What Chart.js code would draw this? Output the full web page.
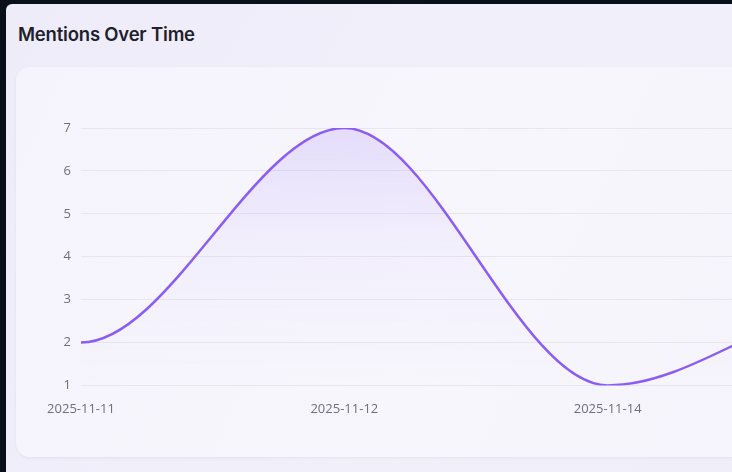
<!DOCTYPE html>
<html>
<head>
<meta charset="utf-8">
<script src="https://cdn.jsdelivr.net/npm/chart.js@4"></script>
<style>
  html, body { margin: 0; padding: 0; }
  body {
    width: 732px; height: 472px; overflow: hidden;
    background: #0a101b;
    font-family: Inter, "Noto Sans", sans-serif;
  }
  .panel {
    position: absolute; left: 6px; top: 4px; width: 1000px; height: 480px;
    background: linear-gradient(120deg, #eeecf9 0%, #f1f0fa 50%, #eeedf8 100%);
    border-radius: 6px 0 0 0;
  }
  .panel h2 {
    position: absolute; left: 12px; top: 19px; margin: 0;
    font-size: 18.5px; font-weight: 600; color: #1f1f2d; letter-spacing: -0.2px;
  }
  .card {
    position: absolute; left: 10px; top: 63px; width: 980px; height: 390px;
    background: linear-gradient(115deg, #f5f4fc 0%, #f7f6fd 45%, #f4f3fb 100%);
    border-radius: 14px;
    box-shadow: 0 1px 3px rgba(120, 110, 170, 0.10);
  }
  #chart { position: absolute; left: 21px; top: 0; }
</style>
</head>
<body>
<div class="panel">
  <h2>Mentions Over Time</h2>
  <div class="card">
    <canvas id="chart" width="880" height="390"></canvas>
  </div>
</div>
<script>
// dates with mentions (last one lies off the visible area)
const dates = ['2025-11-11', '2025-11-12', '2025-11-14', '2025-11-15'];
const mentions = [2, 7, 1, 3];
const yTicks = [1, 2, 3, 4, 5, 6, 7];

const lineColor = '#8b5cf6';

// smooth curve with a flat tangent at every point
const flatCurve = {
    id: 'flatCurve',
    afterDatasetsUpdate(chart) {
        chart.data.datasets.forEach((ds, i) => {
            const meta = chart.getDatasetMeta(i);
            const pts = meta.data;
            pts.forEach((p, k) => {
                const prev = pts[k - 1] || p;
                const next = pts[k + 1] || p;
                p.cp1x = p.x - (p.x - prev.x) / 3;
                p.cp1y = p.y;
                p.cp2x = p.x + (next.x - p.x) / 3;
                p.cp2y = p.y;
            });
            meta.dataset._pointsUpdated = true;
        });
    }
};

const ctx = document.getElementById('chart').getContext('2d');
new Chart(ctx, {
    type: 'line',
    data: {
        labels: dates,
        datasets: [{
            label: 'Mentions',
            data: mentions,
            borderColor: lineColor,
            borderWidth: 2.5,
            tension: 0.4,
            pointRadius: 0,
            fill: 'start',
            backgroundColor: (c) => {
                const area = c.chart.chartArea;
                if (!area) return 'rgba(139,92,246,0.1)';
                const g = c.chart.ctx.createLinearGradient(0, area.top, 0, area.bottom);
                g.addColorStop(0, 'rgba(139,92,246,0.16)');
                g.addColorStop(0.45, 'rgba(139,92,246,0.04)');
                g.addColorStop(1, 'rgba(139,92,246,0)');
                return g;
            }
        }]
    },
    options: {
        responsive: false,
        animation: false,
        layout: { padding: { top: 61, right: 46, bottom: 32, left: 0 } },
        plugins: {
            legend: { display: false },
            tooltip: { enabled: false }
        },
        scales: {
            x: {
                grid: { display: false },
                border: { display: false },
                ticks: {
                    color: '#6f6e7c',
                    font: { family: 'Open Sans', size: 13 },
                    padding: 8,
                    maxRotation: 0
                }
            },
            y: {
                min: 1,
                max: 7,
                afterFit(scale) { scale.width = 44; },
                afterBuildTicks(scale) { scale.ticks = yTicks.map(v => ({ value: v })); },
                grid: { color: '#e7e5f0', drawTicks: false, lineWidth: 1 },
                border: { display: false },
                ticks: {
                    color: '#6f6e7c',
                    font: { family: 'Open Sans', size: 13 },
                    padding: 10
                }
            }
        }
    },
    plugins: [flatCurve]
});
</script>
</body>
</html>
